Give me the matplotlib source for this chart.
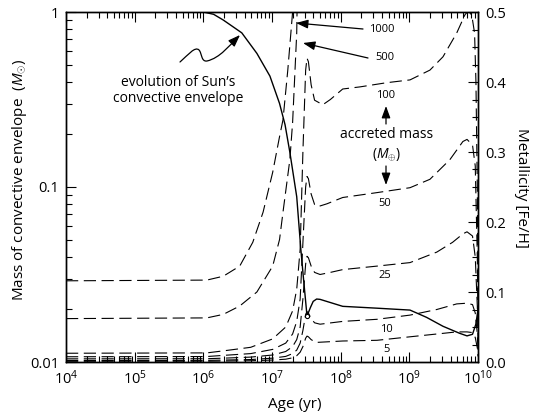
#!/usr/bin/env python3
"""Convective envelope mass of the Sun and metallicity after accretion."""
import numpy as np
import matplotlib
matplotlib.use("Agg")
import matplotlib.pyplot as plt
from matplotlib.path import Path
from matplotlib.patches import FancyArrowPatch
from matplotlib.ticker import (LogLocator, NullFormatter, MultipleLocator, FixedLocator,
                               LogFormatterSciNotation)

# --- data (log10 age in yr) ---
sun_logage = [6.0, 6.15, 6.29, 6.56, 6.78, 6.97, 7.11, 7.19, 7.26, 7.36, 7.42, 7.45,
              7.51, 7.56, 7.60, 7.65, 7.70, 8.03, 8.53, 9.01, 9.25, 9.49, 9.73, 9.84,
              9.92, 9.97, 10.0]
sun_mass = [1.0, 0.97, 0.90, 0.76, 0.58, 0.43, 0.30, 0.227, 0.158, 0.088, 0.044, 0.0326,
            0.0183, 0.0205, 0.0222, 0.0229, 0.0228, 0.0208, 0.0203, 0.0198, 0.018, 0.016,
            0.0146, 0.0141, 0.0144, 0.0165, 0.02]
sun_cusp = 12  # index of the small circle at the envelope minimum (~3e7 yr)

acc_1000_age = [4.0, 6.05, 6.29, 6.53, 6.72, 6.87, 7.01, 7.11, 7.16, 7.23, 7.30, 7.34]
acc_1000_z = [0.116, 0.117, 0.1225, 0.137, 0.171, 0.214, 0.271, 0.322, 0.346, 0.417, 0.50, 0.60]

acc_500_age = [4.0, 6.05, 6.29, 6.53, 6.78, 7.01, 7.11, 7.16, 7.26, 7.30, 7.36, 7.38]
acc_500_z = [0.062, 0.063, 0.068, 0.080, 0.100, 0.137, 0.175, 0.214, 0.289, 0.342, 0.47, 0.60]

late_age = [4.0, 6.05, 6.3, 6.69, 7.01, 7.2, 7.3, 7.36, 7.41, 7.45, 7.49, 7.51, 7.53, 7.57, 7.62]

acc_100_age = late_age + [7.74, 7.85, 8.03, 8.28, 8.67, 9.01, 9.30, 9.49, 9.69, 9.81,
                          9.86, 9.91, 9.95, 9.97, 9.99, 10.0]
acc_100_z = [0.0125, 0.013, 0.016, 0.021, 0.033, 0.050, 0.073, 0.104, 0.161, 0.30, 0.417,
             0.434, 0.429, 0.396, 0.374, 0.3675, 0.375, 0.390, 0.393, 0.399, 0.403, 0.417,
             0.436, 0.47, 0.496, 0.502, 0.495, 0.47, 0.40, 0.25, 0.10]

acc_50_age = late_age + [7.67, 7.8, 8.03, 8.53, 9.01, 9.30, 9.59, 9.78, 9.84, 9.92, 9.96,
                         9.99, 10.0]
acc_50_z = [0.0075, 0.0078, 0.0095, 0.012, 0.018, 0.027, 0.040, 0.058, 0.09, 0.17, 0.25,
            0.265, 0.262, 0.24, 0.225, 0.222, 0.226, 0.235, 0.242, 0.249, 0.261, 0.289,
            0.315, 0.318, 0.31, 0.28, 0.15, 0.05]

acc_25_age = late_age + [7.70, 7.85, 8.03, 8.53, 9.01, 9.40, 9.63, 9.78, 9.84, 9.92, 9.96,
                         9.99, 10.0]
acc_25_z = [0.0045, 0.0047, 0.0055, 0.007, 0.010, 0.015, 0.022, 0.032, 0.05, 0.09, 0.14,
            0.151, 0.149, 0.137, 0.128, 0.125, 0.128, 0.132, 0.137, 0.142, 0.157, 0.171,
            0.183, 0.186, 0.18, 0.15, 0.08, 0.03]

acc_10_age = late_age + [7.70, 8.03, 8.53, 9.01, 9.40, 9.69, 9.84, 9.92, 9.96, 9.99, 10.0]
acc_10_z = [0.0022, 0.0023, 0.0028, 0.0035, 0.0055, 0.008, 0.012, 0.017, 0.027, 0.045,
            0.068, 0.072, 0.07, 0.062, 0.056, 0.054, 0.058, 0.061, 0.067, 0.075, 0.083,
            0.084, 0.082, 0.07, 0.04, 0.015]

acc_5_age = late_age + [7.65, 8.03, 8.53, 9.01, 9.40, 9.69, 9.84, 9.92, 9.96, 9.99, 10.0]
acc_5_z = [0.001, 0.0011, 0.0014, 0.0018, 0.0028, 0.004, 0.006, 0.009, 0.014, 0.022,
           0.034, 0.037, 0.036, 0.032, 0.029, 0.028, 0.030, 0.031, 0.036, 0.040, 0.043,
           0.043, 0.042, 0.035, 0.02, 0.008]

accreted = [(acc_1000_age, acc_1000_z), (acc_500_age, acc_500_z), (acc_100_age, acc_100_z),
            (acc_50_age, acc_50_z), (acc_25_age, acc_25_z), (acc_10_age, acc_10_z),
            (acc_5_age, acc_5_z)]

age_ticks = [1e4, 1e5, 1e6, 1e7, 1e8, 1e9, 1e10]
mass_ticks = [0.01, 0.1, 1]
mass_ticklabels = ["0.01", "0.1", "1"]
feh_ticks = [0.0, 0.1, 0.2, 0.3, 0.4, 0.5]

plt.rcParams["font.family"] = ["Open Sans", "DejaVu Sans"]
plt.rcParams["mathtext.fontset"] = "custom"
plt.rcParams["mathtext.rm"] = "Open Sans"
plt.rcParams["mathtext.it"] = "Open Sans:italic"

W, H = 534, 417


def fpos(px, py):
    """pixel position in the 534x417 picture -> figure fraction"""
    return (px / W, 1 - py / H)


fig = plt.figure(figsize=(W / 100, H / 100), dpi=100)
ax = fig.add_axes([66 / W, 1 - 362 / H, (478 - 66) / W, 350 / H])
ax2 = ax.twinx()

# solid: Sun's convective envelope mass
ax.plot(10 ** np.array(sun_logage), sun_mass, color="k", lw=1.0)
ax.plot(10 ** sun_logage[sun_cusp], sun_mass[sun_cusp], "o", ms=3, mfc="white", mec="k", mew=0.8)

# dashed: metallicity for each accreted mass
for ages, z in accreted:
    ax2.plot(10 ** np.array(ages), z, color="k", lw=0.8, dashes=(11, 5))

ax.set_xscale("log")
ax.set_yscale("log")
ax.set_xlim(1e4, 1e10)
ax.set_ylim(0.01, 1)
ax2.set_ylim(0, 0.5)

ax.yaxis.set_major_locator(FixedLocator(mass_ticks))
ax.set_yticklabels(mass_ticklabels)
ax.yaxis.set_minor_locator(LogLocator(subs=np.arange(2, 10)))
ax.yaxis.set_minor_formatter(NullFormatter())
ax.xaxis.set_major_locator(FixedLocator(age_ticks))
ax.xaxis.set_major_formatter(LogFormatterSciNotation())
ax.xaxis.set_minor_locator(LogLocator(subs=np.arange(2, 10), numticks=10))
ax.xaxis.set_minor_formatter(NullFormatter())
ax2.yaxis.set_major_locator(FixedLocator(feh_ticks))
ax2.yaxis.set_minor_locator(MultipleLocator(0.025))
ax2.yaxis.set_major_formatter(lambda v, p: f"{v:.1f}")

ax.tick_params(which="both", direction="in", top=True, right=False, labelsize=10.5, width=0.8)
ax.tick_params(which="major", length=7, pad=5)
ax.tick_params(which="minor", length=4)
ax2.tick_params(which="both", direction="in", labelsize=10.5, width=0.8)
ax2.tick_params(which="major", length=7, pad=5)
ax2.tick_params(which="minor", length=4)
for a in (ax, ax2):
    for s in a.spines.values():
        s.set_linewidth(1.0)

# axis labels
fig.text(*fpos(20, 180), "Mass of convective envelope  ($M_{\\odot}$)", rotation=90,
         ha="center", va="center", fontsize=11)
fig.text(*fpos(522, 188), "Metallicity [Fe/H]", rotation=270, ha="center", va="center",
         fontsize=11)
fig.text(*fpos(295, 405), "Age (yr)", ha="center", va="center", fontsize=11)

# annotation: Sun's envelope with wiggly arrow
fig.text(*fpos(178, 82), "evolution of Sun\u2019s", ha="center", va="center", fontsize=10)
fig.text(*fpos(178, 99), "convective envelope", ha="center", va="center", fontsize=10)
wig = [(180, 62), (188, 55), (195, 46), (199, 50), (202, 53), (201, 62), (207, 61),
       (220, 58), (230, 45), (240, 35)]
codes = [Path.MOVETO] + [Path.CURVE4] * 9
wig_path = Path([fpos(*p) for p in wig], codes)
head_style = "-|>,head_length=0.6,head_width=0.22"
fig.add_artist(FancyArrowPatch(path=wig_path, transform=fig.transFigure,
                               arrowstyle=head_style, mutation_scale=12, lw=0.9, color="k"))

for tail, head in [((363, 29), (296, 23)), ((368, 58), (303, 43)),
                   ((386, 124), (386, 106)), ((386, 166), (386, 185))]:
    fig.add_artist(FancyArrowPatch(fpos(*tail), fpos(*head), transform=fig.transFigure,
                                   arrowstyle=head_style, mutation_scale=12, lw=0.9,
                                   color="k", shrinkA=0, shrinkB=0))

for txt, (px, py) in [("1000", (382, 29)), ("500", (385, 58)), ("100", (386, 95)),
                      ("50", (385, 203)), ("25", (385, 276)), ("10", (386, 329)),
                      ("5", (387, 350))]:
    fig.text(*fpos(px, py), txt, ha="center", va="center", fontsize=8)
fig.text(*fpos(387, 135), "accreted mass", ha="center", va="center", fontsize=10)
fig.text(*fpos(387, 155), "($M_{\\oplus}$)", ha="center", va="center", fontsize=10)

fig.savefig("out.png", dpi=100)
